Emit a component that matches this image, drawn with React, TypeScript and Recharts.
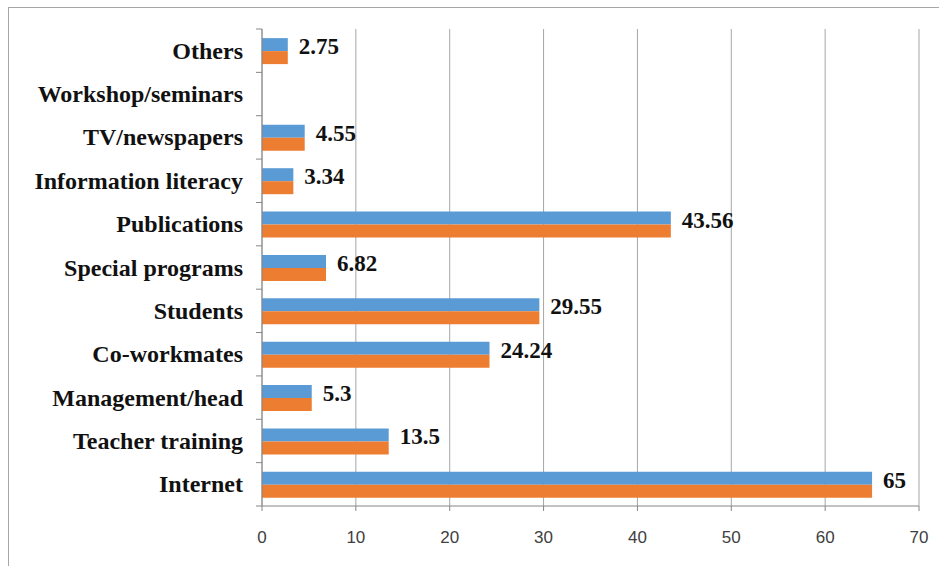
import React from "react";
import { BarChart, Bar, XAxis, YAxis, CartesianGrid } from "recharts";

const categories = [
  "Others",
  "Workshop/seminars",
  "TV/newspapers",
  "Information literacy",
  "Publications",
  "Special programs",
  "Students",
  "Co-workmates",
  "Management/head",
  "Teacher training",
  "Internet",
];
const seriesA: (number | null)[] = [2.75, null, 4.55, 3.34, 43.56, 6.82, 29.55, 24.24, 5.3, 13.5, 65];
const seriesB: (number | null)[] = [2.75, null, 4.55, 3.34, 43.56, 6.82, 29.55, 24.24, 5.3, 13.5, 65];
const xTicks = [0, 10, 20, 30, 40, 50, 60, 70];

const data = categories.map((c, i) => ({ name: c, a: seriesA[i], b: seriesB[i] }));

const CatTick = (props: any) => {
  const { x, y, payload, index } = props;
  const half = payload && payload.offset ? payload.offset : 477 / 11 / 2;
  return (
    <g>
      <text
        x={x}
        y={y}
        textAnchor="end"
        dominantBaseline="central"
        fontFamily="'Liberation Serif', 'Times New Roman', serif"
        fontWeight="bold"
        fontSize={24}
        fill="#111"
      >
        {payload.value}
      </text>
      <line x1={x + 13} x2={x + 19} y1={y - half} y2={y - half} stroke="#868686" strokeWidth={1} />
      {index === categories.length - 1 ? (
        <line x1={x + 13} x2={x + 19} y1={y + half} y2={y + half} stroke="#868686" strokeWidth={1} />
      ) : null}
    </g>
  );
};

const ValueLabel = (props: any) => {
  const { x, y, width, height, value } = props;
  if (value === null || value === undefined) return null;
  return (
    <text
      x={x + width + 11}
      y={y + height / 2 + 2}
      dominantBaseline="central"
      fontFamily="'Liberation Serif', 'Times New Roman', serif"
      fontWeight="bold"
      fontSize={23}
      fill="#111"
    >
      {value}
    </text>
  );
};

export default function App() {
  return (
    <div style={{ position: "absolute", left: 0, top: 0, width: 939, height: 566, background: "#fff" }}>
      <div
        style={{
          position: "absolute",
          left: 8,
          top: 7,
          width: 940,
          height: 570,
          borderLeft: "1px solid #a6a6a6",
          borderTop: "1px solid #a6a6a6",
        }}
      />
      <div style={{ position: "absolute", left: 0, top: 0 }}>
        <BarChart
          width={939}
          height={566}
          data={data}
          layout="vertical"
          margin={{ top: 29, right: 20, bottom: 20, left: 0 }}
          barCategoryGap="21%"
          barGap={0}
        >
          <CartesianGrid horizontal={false} vertical={true} stroke="#a6a6a6" strokeWidth={1} />
          <XAxis
            type="number"
            domain={[0, 70]}
            ticks={xTicks}
            height={40}
            tickSize={5}
            tickMargin={20}
            stroke="#868686"
            tick={{ fill: "#404040", fontSize: 17, fontFamily: "'Liberation Sans', Arial, sans-serif" }}
          />
          <YAxis
            type="category"
            dataKey="name"
            width={262}
            tickSize={0}
            tickMargin={19}
            tickLine={false}
            stroke="#868686"
            interval={0}
            tick={<CatTick />}
          />
          <Bar dataKey="a" fill="#5B9BD5" isAnimationActive={false} label={<ValueLabel />} />
          <Bar dataKey="b" fill="#ED7D31" isAnimationActive={false} />
        </BarChart>
      </div>
    </div>
  );
}
